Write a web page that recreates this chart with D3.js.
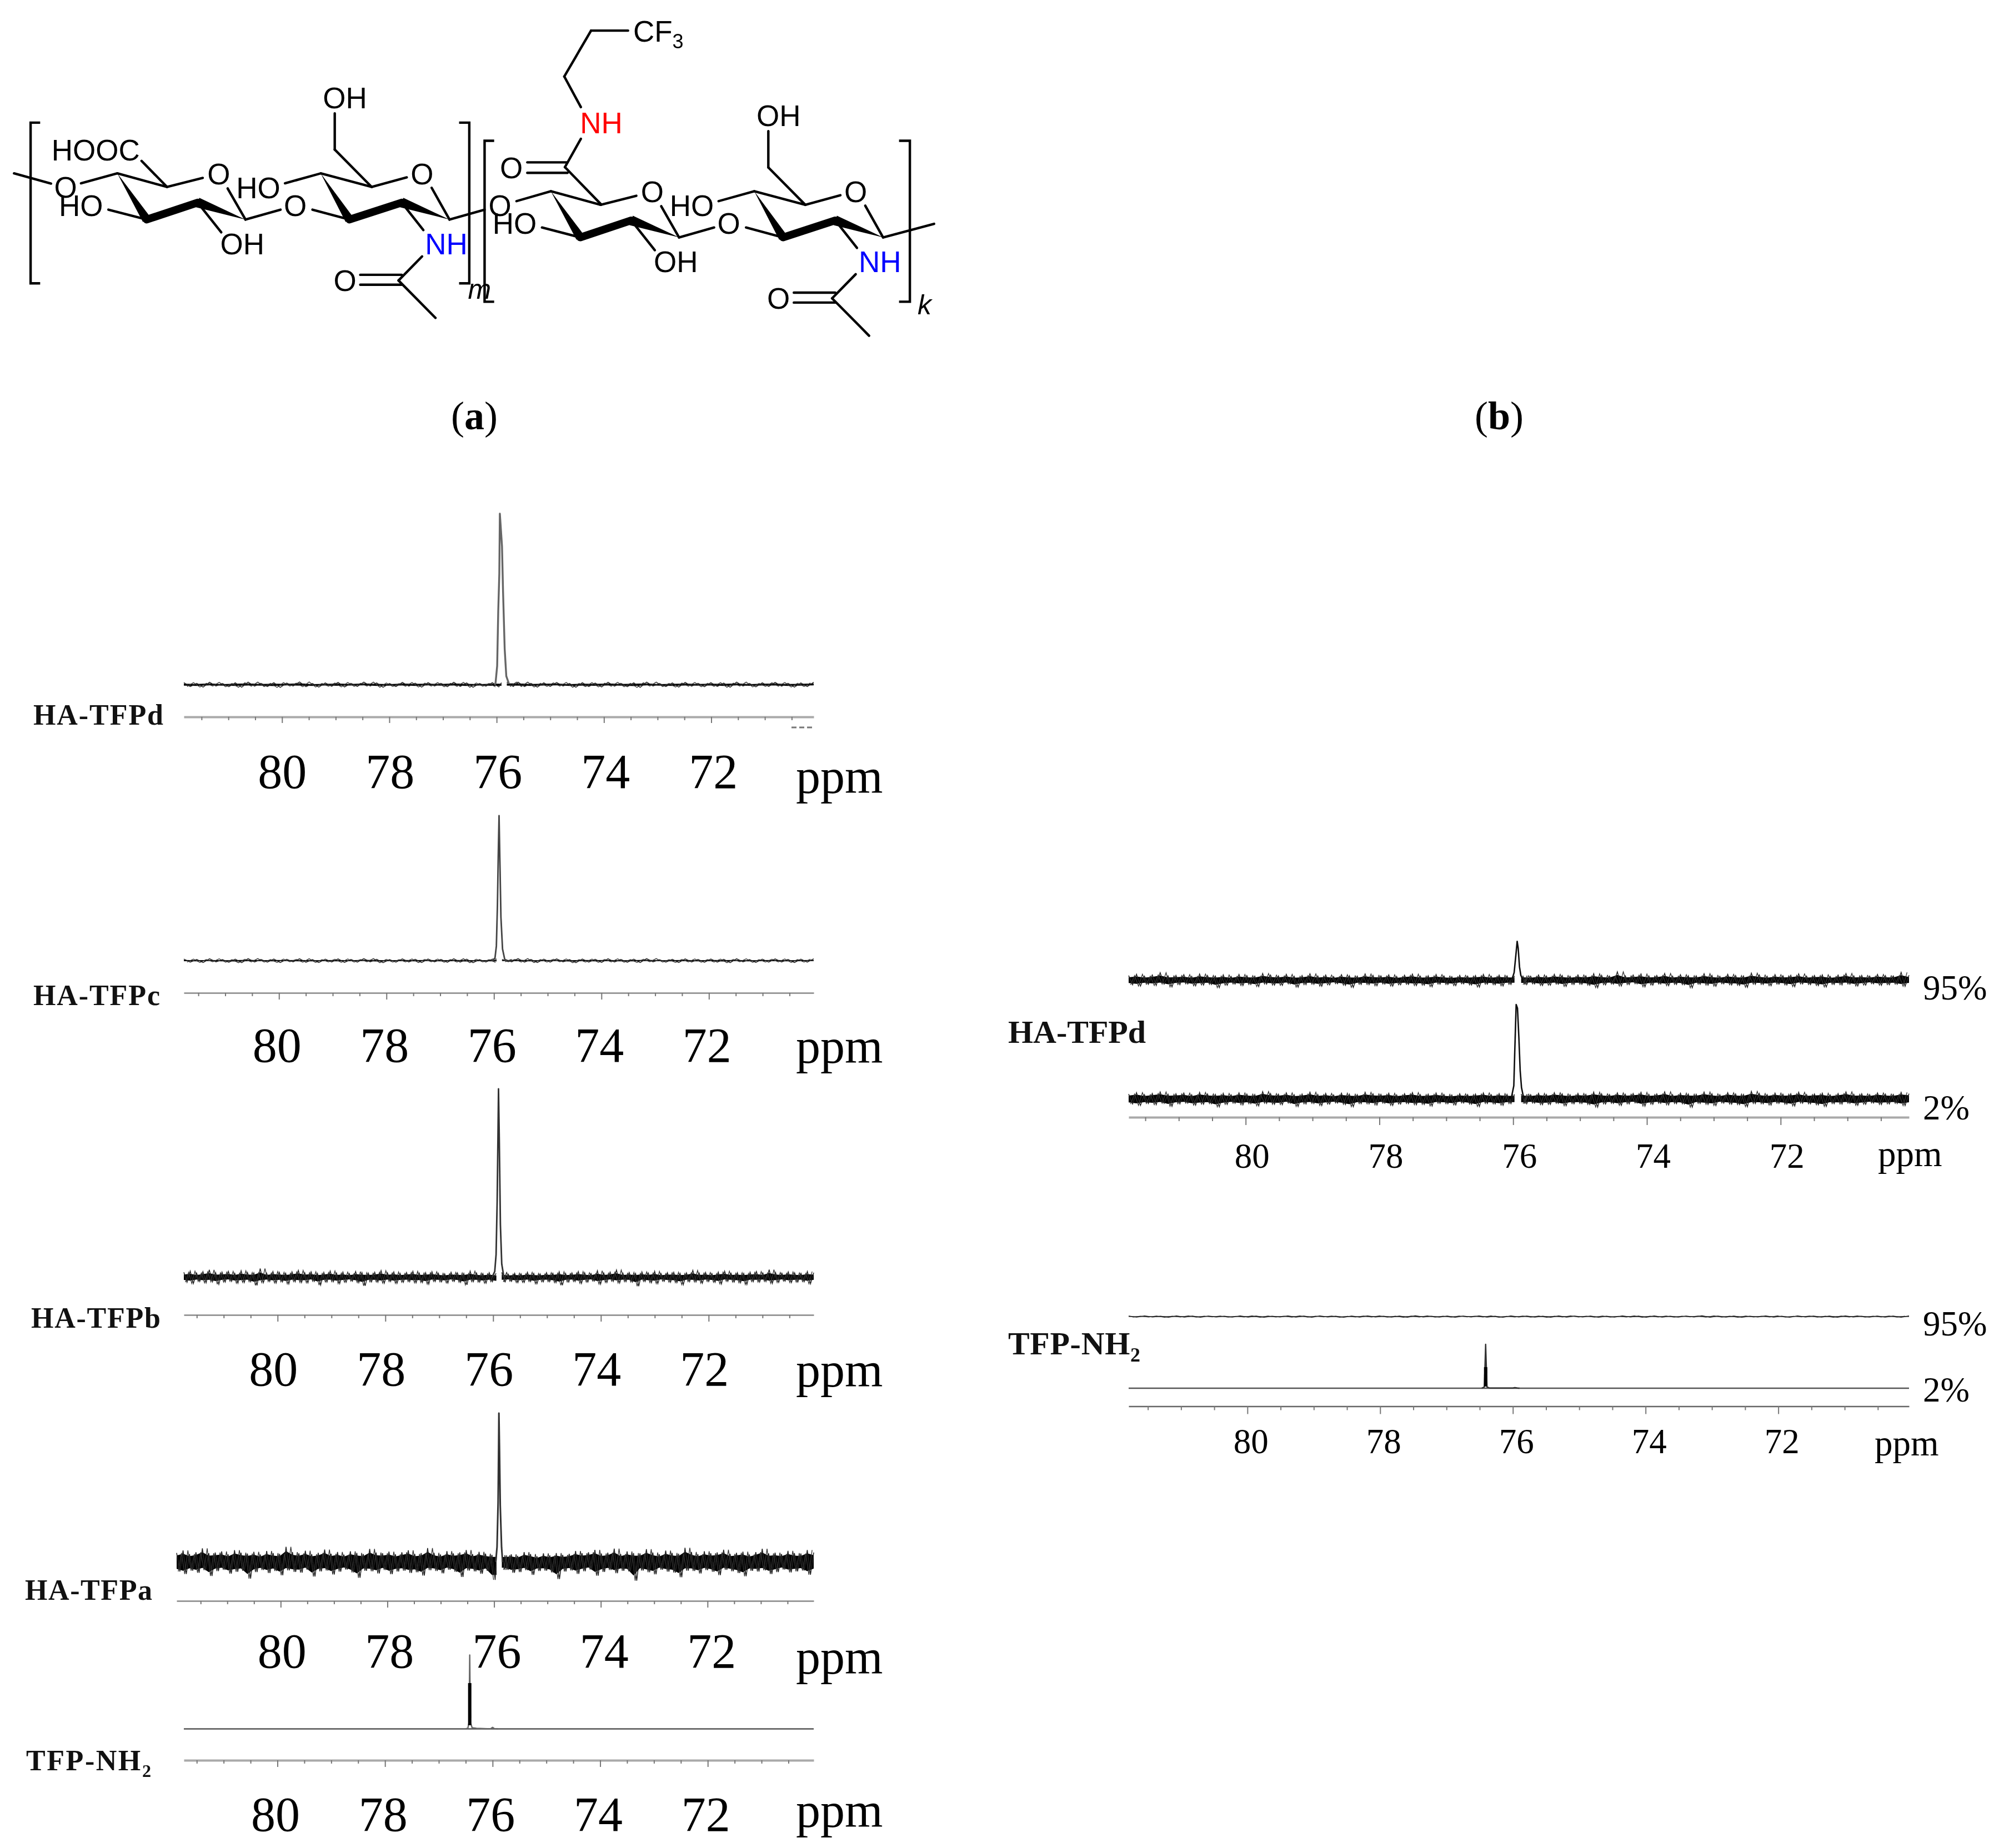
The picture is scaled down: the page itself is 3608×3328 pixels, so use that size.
<!DOCTYPE html>
<html><head><meta charset="utf-8">
<script src="https://cdnjs.cloudflare.com/ajax/libs/d3/7.8.5/d3.min.js"></script>
<style>html,body{margin:0;padding:0;background:#fff}svg{display:block}</style>
</head><body><svg id="c" width="3608" height="3328"></svg>
<script>
// ---------- axis values ----------
const majorTicks=[80,78,76,74,72];
const minorTicks=[81.5,81,80.5,79.5,79,78.5,77.5,77,76.5,75.5,75,74.5,73.5,73,72.5,71.5,71,70.5];

// ---------- peak shapes: [ppm, intensity] ----------
const peakLeftD=[[76.04,0],[76.02,1],[75.99,11],[75.97,43],[75.95,65],[75.94,100],[75.90,81],[75.88,54],[75.85,21],[75.82,5],[75.77,0.5]];
const peakLeftC=[[76.02,0],[75.98,2],[75.955,10],[75.935,38],[75.92,72],[75.905,100],[75.89,70],[75.87,30],[75.84,8],[75.80,1],[75.76,0]];
const peakLeftB=[[76.02,0],[75.97,3],[75.945,12],[75.925,40],[75.91,75],[75.90,100],[75.885,72],[75.865,28],[75.84,7],[75.80,0]];
const peakLeftA=[[75.97,0],[75.945,10],[75.925,40],[75.915,78],[75.91,100],[75.90,78],[75.885,38],[75.86,10],[75.84,0]];
const peakLeftN=[[76.50,0],[76.46,1],[76.44,8],[76.43,65],[76.425,100],[76.42,65],[76.41,8],[76.38,1.5],[76.30,0.8],[76.10,0.3],[76.03,0.5],[76.0,2],[75.97,0.5],[75.9,0]];
const coreLeftN=[[76.425,5],[76.425,62]];
const peakRightD95=[[76.02,0],[75.985,8],[75.96,26],[75.94,41],[75.925,34],[75.905,14],[75.885,5],[75.85,0]];
const peakRightD2=[[76.03,0],[75.99,14],[75.975,52],[75.955,100],[75.935,96],[75.915,66],[75.895,30],[75.875,12],[75.84,0]];
const peakRightN=[[76.47,0],[76.43,3],[76.42,50],[76.41,100],[76.40,50],[76.39,3],[76.35,0.3],[76.0,0.3],[75.97,1.5],[75.93,0.3],[75.9,0]];
const coreRightN=[[76.41,4],[76.41,48]];

// ---------- baseline noise envelopes (% of tallest peak) ----------
const hiA=[6.1,7.8,5.4,6.6,9.2,5.9,6.4,7.1,5.2,8.0,6.3,5.7,6.9,5.1,7.4,6.0,5.5,10.2,6.7,5.8,7.6,5.3,6.2,8.4,5.6,6.8,5.0,7.2,6.1,5.4,8.8,6.4,5.9,7.0,5.2,6.6,7.9,5.5,6.0,9.4,6.2,5.1,7.3,5.8,6.5,8.1,5.3,6.9,5.6,4.8,6.1,4.6,5.2,4.1,6.7,5.4,3.9,5.8,4.4,6.0,4.8,5.5,7.4,5.9,6.6,8.2,5.7,6.3,9.0,5.4,7.1,6.0,5.8,8.6,6.4,5.2,7.7,6.1,5.6,9.6,6.8,5.3,7.2,5.9,6.5,8.3,5.5,6.2,7.0,5.1,6.7,8.9,5.8,6.3,5.4,7.5,6.0,5.7,8.1,6.4];
const loA=[-6.4,-8.1,-5.8,-7.2,-5.5,-9.4,-6.1,-5.3,-7.8,-6.6,-5.9,-11.2,-6.8,-5.4,-7.4,-6.0,-8.9,-5.6,-6.7,-7.1,-5.2,-9.8,-6.3,-5.7,-8.4,-6.5,-5.1,-7.0,-10.6,-5.9,-6.2,-7.7,-5.4,-8.2,-6.4,-5.8,-7.3,-6.9,-9.1,-5.5,-6.0,-7.6,-5.2,-6.6,-10.0,-5.7,-6.3,-7.9,-5.9,-12.0,-6.1,-5.3,-7.2,-6.8,-5.5,-8.6,-6.0,-5.8,-7.0,-11.4,-6.4,-5.6,-8.0,-6.2,-5.1,-9.2,-6.7,-5.4,-7.5,-5.9,-6.3,-12.6,-5.7,-6.9,-8.3,-5.2,-6.5,-7.1,-10.2,-5.8,-6.0,-7.7,-5.5,-6.6,-8.8,-5.3,-6.2,-7.4,-9.6,-5.9,-6.4,-5.6,-8.1,-6.8,-5.1,-7.0,-6.3,-5.7,-8.5,-6.1];
const hiB=[2.6,3.2,2.2,2.9,3.9,2.4,2.7,3.1,2.1,3.4,2.5,2.3,4.6,2.2,3.0,2.6,2.1,2.8,3.6,2.4,2.9,2.0,2.5,3.3,2.2,2.7,1.9,3.0,2.4,2.1,2.6,3.5,2.3,2.8,2.0,2.5,3.1,2.2,2.4,2.9,2.1,1.8,2.6,2.3,2.0,3.2,2.2,1.9,2.4,1.8,2.5,1.6,2.1,1.8,2.6,2.0,1.7,2.4,2.1,2.9,2.0,2.3,3.0,2.4,1.9,3.4,2.2,2.7,3.8,2.1,2.5,2.0,2.8,2.2,3.1,1.9,2.4,2.6,2.0,2.3,3.6,2.2,2.5,1.9,2.7,3.2,2.1,2.4,2.0,2.6,3.0,2.2,4.0,2.5,2.1,2.8,2.3,2.0,3.0,2.4];
const loB=[-2.7,-3.4,-2.3,-3.0,-2.5,-3.8,-2.6,-2.2,-3.2,-2.8,-2.4,-4.4,-2.9,-2.3,-3.1,-2.5,-3.6,-2.4,-2.8,-3.0,-2.2,-4.2,-2.6,-2.4,-3.4,-2.7,-2.1,-2.9,-4.6,-2.5,-2.6,-3.2,-2.3,-3.3,-2.7,-2.4,-3.0,-2.8,-3.7,-2.3,-2.5,-3.1,-2.2,-2.7,-4.1,-2.4,-2.6,-3.2,-2.4,-3.5,-2.5,-2.2,-2.9,-2.8,-2.3,-3.5,-2.5,-2.4,-2.9,-4.3,-2.6,-2.3,-3.3,-2.6,-2.1,-3.7,-2.8,-2.2,-3.1,-2.4,-2.6,-4.8,-2.3,-2.9,-3.4,-2.2,-2.7,-2.9,-4.0,-2.4,-2.5,-3.2,-2.3,-2.7,-3.6,-2.2,-2.6,-3.0,-3.9,-2.4,-2.6,-2.3,-3.3,-2.8,-2.1,-2.9,-2.6,-2.4,-3.5,-2.5];
const hiD2=[5.2,6.7,4.6,5.8,7.4,4.9,5.4,6.2,4.4,6.9,5.3,4.7,5.9,4.3,6.4,5.1,4.6,7.8,5.7,4.9,6.5,4.4,5.2,7.1,4.7,5.8,4.2,6.1,5.0,4.5,7.0,5.4,4.9,6.0,4.3,5.6,6.7,4.6,5.0,6.3,4.8,4.1,5.5,4.6,5.2,6.4,4.5,5.6,4.8,4.0,5.1,4.5,5.9,4.7,6.6,5.3,4.4,5.8,4.9,7.2,5.4,4.6,6.4,5.0,5.7,7.0,4.8,5.3,7.6,4.6,6.1,5.1,4.9,7.3,5.4,4.4,6.6,5.2,4.7,8.0,5.8,4.5,6.2,5.0,5.5,7.1,4.7,5.3,6.0,4.3,5.7,7.5,4.9,5.4,4.6,6.4,5.1,4.8,6.9,5.6];
const loD2=[-5.4,-6.9,-4.9,-6.1,-4.7,-7.8,-5.2,-4.5,-6.6,-5.6,-5.0,-8.4,-5.8,-4.6,-6.3,-5.1,-7.4,-4.7,-5.7,-6.0,-4.4,-8.0,-5.3,-4.8,-7.0,-5.5,-4.3,-5.9,-8.2,-5.0,-5.2,-6.5,-4.6,-6.9,-5.4,-4.9,-6.2,-5.8,-7.5,-4.7,-5.1,-6.4,-4.4,-5.6,-8.0,-4.8,-5.3,-6.7,-5.0,-7.0,-5.2,-4.5,-6.1,-5.8,-4.7,-7.2,-5.1,-4.9,-5.9,-8.6,-5.4,-4.7,-6.8,-5.2,-4.3,-7.6,-5.7,-4.6,-6.3,-5.0,-5.3,-8.8,-4.8,-5.8,-7.0,-4.4,-5.5,-6.0,-8.2,-4.9,-5.1,-6.5,-4.7,-5.6,-7.4,-4.5,-5.2,-6.2,-7.9,-5.0,-5.4,-4.7,-6.8,-5.7,-4.3,-5.9,-5.3,-4.8,-7.1,-5.2];
const hiD95=[4.8,6.2,4.2,5.4,7.8,4.5,5.0,5.8,4.0,6.4,4.9,4.3,5.5,3.9,6.0,4.7,4.2,7.0,5.3,4.5,6.1,4.0,4.8,6.6,4.3,5.4,3.8,5.7,4.6,4.1,6.5,5.0,4.5,5.6,3.9,5.2,6.3,4.2,4.6,5.9,4.4,3.7,5.1,4.2,4.8,6.0,4.1,5.2,4.4,3.6,4.7,4.1,5.5,4.3,6.1,4.9,4.0,5.4,4.5,6.7,5.0,4.2,8.8,4.6,5.3,6.5,4.4,4.9,7.0,4.2,5.7,4.7,4.5,6.8,5.0,4.0,6.1,4.8,4.3,7.4,5.4,4.1,5.8,4.6,5.1,6.6,4.3,4.9,5.6,3.9,5.3,7.0,4.5,5.0,4.2,6.0,4.7,4.4,8.2,5.2];
const loD95=[-5.0,-6.4,-4.5,-5.7,-4.3,-7.2,-4.8,-4.1,-6.1,-5.2,-4.6,-8.0,-5.4,-4.2,-5.8,-4.7,-6.9,-4.3,-5.3,-5.6,-4.0,-7.5,-4.9,-4.4,-6.5,-5.1,-3.9,-5.5,-7.7,-4.6,-4.8,-6.0,-4.2,-6.4,-5.0,-4.5,-5.8,-5.4,-7.0,-4.3,-4.7,-5.9,-4.0,-5.2,-7.4,-4.4,-4.9,-6.2,-4.6,-6.5,-4.8,-4.1,-5.7,-5.4,-4.3,-6.7,-4.7,-4.5,-5.5,-8.0,-5.0,-4.3,-6.3,-4.8,-3.9,-7.1,-5.3,-4.2,-5.9,-4.6,-4.9,-8.2,-4.4,-5.4,-6.5,-4.0,-5.1,-5.6,-7.6,-4.5,-4.7,-6.0,-4.3,-5.2,-6.9,-4.1,-4.8,-5.8,-7.3,-4.6,-5.0,-4.3,-6.3,-5.3,-3.9,-5.5,-4.9,-4.4,-6.6,-4.8];
const hiQuietD=[1.2,0.8,1.4,0.7,1.1,1.5,0.8,1.2,0.9,1.6,0.7,1.0,1.3,0.8,1.5,1.0,0.7,1.3,0.9,1.2,0.8,1.4,1.0,0.7,1.2,0.9,1.5,0.8,1.1,1.3,0.7,1.2,0.9,1.4,0.8,1.1,1.5,0.7,1.0,1.3,0.8,1.2,0.9,1.5,0.7,1.1,1.3,0.8,1.0,1.4];
const loQuietD=[-1.1,-1.4,-0.8,-1.2,-1.5,-0.9,-1.1,-1.6,-0.8,-1.2,-1.4,-0.9,-1.3,-1.0,-0.8,-1.5,-1.1,-0.9,-1.4,-0.8,-1.2,-1.0,-1.5,-0.9,-1.3,-0.8,-1.1,-1.4,-1.0,-0.8,-1.5,-1.1,-1.3,-0.9,-1.2,-1.6,-0.8,-1.1,-1.4,-0.9,-1.2,-1.0,-1.5,-0.8,-1.3,-1.0,-0.9,-1.4,-1.1,-0.8];
const hiQuietC=[1.1,0.8,1.3,0.7,1.0,1.4,0.8,1.1,0.9,1.3,0.7,1.0,1.2,0.8,1.4,0.9,0.7,1.2,0.9,1.1,0.8,1.3,1.0,0.7,1.1,0.9,1.4,0.8,1.0,1.2,0.7,1.1,0.9,1.3,0.8,1.0,1.4,0.7,0.9,1.2,0.8,1.1,0.9,1.3,0.7,1.0,1.2,0.8,1.0,1.3];
const loQuietC=[-1.0,-1.3,-0.8,-1.1,-1.4,-0.9,-1.0,-1.3,-0.8,-1.1,-1.3,-0.9,-1.2,-1.0,-0.8,-1.4,-1.0,-0.9,-1.3,-0.8,-1.1,-1.0,-1.4,-0.9,-1.2,-0.8,-1.0,-1.3,-1.0,-0.8,-1.4,-1.0,-1.2,-0.9,-1.1,-1.3,-0.8,-1.0,-1.3,-0.9,-1.1,-1.0,-1.4,-0.8,-1.2,-1.0,-0.9,-1.3,-1.0,-0.8];
const hiQuietN=[1.0,1.3,0.9,1.5,1.0,1.2,0.8,1.4,1.1,0.9,1.5,1.0,1.3,0.8,1.2,1.4,0.9,1.1,1.6,0.9,1.2,1.0,1.4,0.8,1.3,1.1,0.9,1.5,1.0,1.2,0.8,1.4,1.0,1.3,0.9,1.1,1.6,1.0,1.2,0.9,1.4,0.8,1.3,1.0,1.1,1.5,0.9,1.2,1.0,1.4];
const loQuietN=[-1.1,-0.9,-1.4,-1.0,-1.3,-0.8,-1.2,-1.0,-1.5,-0.9,-1.1,-1.3,-0.8,-1.4,-1.0,-0.9,-1.2,-1.5,-0.9,-1.1,-1.3,-0.8,-1.0,-1.4,-0.9,-1.2,-1.5,-1.0,-0.8,-1.3,-1.1,-0.9,-1.4,-1.0,-1.2,-0.8,-1.3,-1.1,-1.5,-0.9,-1.0,-1.3,-0.8,-1.2,-1.4,-0.9,-1.1,-1.0,-1.3,-0.9];
const flatHi=[0.5,0.5];
const flatLo=[-0.5,-0.5];

// ---------- labels ----------
const panelNames=["HA-TFPd","HA-TFPc","HA-TFPb","HA-TFPa","TFP-NH","HA-TFPd","TFP-NH"];
const percentLabels=["95%","2%"];

const svg=d3.select("#c");
const defs=svg.append("defs");
defs.append("filter").attr("id","soft").attr("x","-2%").attr("y","-2%").attr("width","104%").attr("height","104%")
  .append("feGaussianBlur").attr("stdDeviation",0.7);
const SERIF="'Liberation Serif',serif", SANS="'Liberation Sans',sans-serif";

// ---------- panels ----------
const panels=[
 {name:0,pxL:331,pxR:1465,pL:81.83,pR:70.09,axisY:1291,fs:88,lblDx:0,lblK:0.4,lblBase:1419,ppmX:1433,ppmBase:1428,nameX:60,nameY:1288,nameFs:52,nameW:234,axisW:4,axisC:"#aaa",tick:[6,11],
  traces:[{base:1233,unit:3.08,hi:hiQuietD,lo:loQuietD,core:0.5,peak:peakLeftD,gap:75.86,peakC:"#666",peakW:3.4}]},
 {name:1,pxL:331,pxR:1465,pL:81.77,pR:70.05,axisY:1788,fs:88,lblDx:-4,lblK:0,lblBase:1912,ppmX:1433,ppmBase:1914,nameX:60,nameY:1793,nameFs:52,nameW:228,axisW:2.5,axisC:"#888",tick:[6,12],
  traces:[{base:1730,unit:2.61,hi:hiQuietC,lo:loQuietC,core:0.4,peak:peakLeftC,gap:75.90,peakC:"#444",peakW:2.8}]},
 {name:2,pxL:331,pxR:1465,pL:81.74,pR:70.05,axisY:2368,fs:88,lblDx:-8,lblK:0,lblBase:2495,ppmX:1433,ppmBase:2497,nameX:56,nameY:2374,nameFs:52,nameW:233,axisW:2.5,axisC:"#888",tick:[6,12],
  traces:[{base:2300,unit:3.39,hi:hiB,lo:loB,core:0.55,peak:peakLeftB,gap:75.89,peakC:"#333",peakW:2.8}]},
 {name:3,pxL:318,pxR:1465,pL:81.95,pR:70.01,axisY:2883,fs:88,lblDx:2,lblK:0.6,lblBase:3003,ppmX:1433,ppmBase:3014,nameX:45,nameY:2864,nameFs:52,nameW:229,axisW:2.5,axisC:"#888",tick:[6,12],
  traces:[{base:2813,unit:2.68,hi:hiA,lo:loA,core:0.72,peak:peakLeftA,gap:75.905,peakC:"#333",peakW:3}]},
 {name:4,sub:"2",pxL:331,pxR:1465,pL:81.74,pR:70.03,axisY:3170,fs:88,lblDx:-4,lblK:0,lblBase:3297,ppmX:1433,ppmBase:3290,nameX:47,nameY:3171,nameFs:52,nameW:225,axisW:4,axisC:"#aaa",tick:[6,12],
  traces:[{base:3113.5,unit:1.33,hi:flatHi,lo:flatLo,peak:peakLeftN,coreLine:coreLeftN,gap:76.42,peakC:"#666",peakW:2.4,lineOnly:true}]},
 {name:5,pxL:2032,pxR:3437,pL:81.75,pR:70.08,axisY:2012,fs:63,lblDx:11,lblK:0,lblBase:2103,ppmX:3381,ppmBase:2100,nameX:1815,nameY:1859,nameFs:58,nameW:248,axisW:4,axisC:"#aaa",tick:[7,14],
  traces:[{base:1765,unit:1.7,hi:hiD95,lo:loD95,core:0.62,peak:peakRightD95,gap:75.93,peakC:"#111",peakW:2.6},
          {base:1979,unit:1.7,hi:hiD2,lo:loD2,core:0.68,peak:peakRightD2,gap:75.93,peakC:"#111",peakW:2.6}],
  pct:[{x:3462,y:1800,t:0},{x:3462,y:2016,t:1}]},
 {name:6,sub:"2",pxL:2032,pxR:3437,pL:81.79,pR:70.03,axisY:2532.5,fs:63,lblDx:6,lblK:0,lblBase:2617,ppmX:3375,ppmBase:2621,nameX:1815,nameY:2420,nameFs:58,nameW:238,axisW:2.5,axisC:"#666",tick:[7,14],
  traces:[{base:2371,unit:0.9,hi:hiQuietN,lo:loQuietN,core:0.5,gap:null,peak:null},
          {base:2500,unit:0.79,hi:flatHi,lo:flatLo,peak:peakRightN,coreLine:coreRightN,gap:76.41,peakC:"#333",peakW:2.4,lineOnly:true}],
  pct:[{x:3462,y:2405,t:0},{x:3462,y:2524,t:1}]}
];

const specG=svg.append("g").attr("filter","url(#soft)");
const textG=svg.append("g");
panels.forEach(p=>{
  const x=d3.scaleLinear().domain([p.pL,p.pR]).range([p.pxL,p.pxR]);
  const gMinor=specG.append("g").attr("transform",`translate(0,${p.axisY})`)
    .call(d3.axisBottom(x).tickValues(minorTicks).tickSize(p.tick[0]).tickSizeOuter(0).tickFormat(""));
  gMinor.select(".domain").attr("stroke",p.axisC).attr("stroke-width",p.axisW);
  gMinor.selectAll(".tick line").attr("stroke","#777").attr("stroke-width",2);
  const gMajor=textG.append("g").attr("transform",`translate(0,${p.axisY})`)
    .call(d3.axisBottom(x).tickValues(majorTicks).tickSize(p.tick[1]).tickSizeOuter(0).tickFormat(d=>d));
  gMajor.select(".domain").remove();
  gMajor.selectAll(".tick line").attr("stroke","#777").attr("stroke-width",2);
  gMajor.selectAll(".tick text").attr("y",p.lblBase-p.axisY).attr("dy",0).attr("dx",d=>p.lblDx+(80-d)*p.lblK)
    .attr("fill","#000").attr("font-family",SERIF).attr("font-size",p.fs);
  gMajor.attr("font-size",null).attr("font-family",null);

  textG.append("text").attr("x",p.ppmX).attr("y",p.ppmBase).attr("font-family",SERIF).attr("font-size",p.fs+(p.fs<70?2:0)).text("ppm");

  const nm=textG.append("text").attr("x",p.nameX).attr("y",p.nameY+p.nameFs*0.33)
    .attr("font-family",SERIF).attr("font-weight","bold").attr("font-size",p.nameFs)
    .attr("textLength",p.nameW).attr("lengthAdjust","spacing")
    .attr("fill","#111").text(panelNames[p.name]);
  if(p.sub) nm.append("tspan").attr("dy",p.nameFs*0.22).attr("font-size",p.nameFs*0.62).text(p.sub);

  (p.pct||[]).forEach(t=>textG.append("text").attr("x",t.x).attr("y",t.y)
     .attr("font-family",SERIF).attr("font-size",63).text(percentLabels[t.t]));

  p.traces.forEach(tr=>{
    const y=d3.scaleLinear().domain([0,100]).range([tr.base,tr.base-100*tr.unit]);
    const n=tr.hi.length;
    const pts=d3.range(n).map(i=>({ppm:p.pL+(p.pR-p.pL)*i/(n-1),hi:tr.hi[i],lo:tr.lo[i]}));
    let parts;
    if(tr.gap==null||tr.lineOnly) parts=[pts];
    else{
      const hw=0.05;
      const L=pts.filter(d=>d.ppm>tr.gap+hw),R=pts.filter(d=>d.ppm<tr.gap-hw);
      L.push({...L[L.length-1],ppm:tr.gap+hw});
      R.unshift({...R[0],ppm:tr.gap-hw});
      parts=[L,R];
    }
    parts.forEach(seg=>{
      if(tr.lineOnly){
        specG.append("path").attr("d",d3.line().x(d=>x(d.ppm)).y(d=>y(0))(seg)).attr("stroke","#555").attr("stroke-width",2.6).attr("fill","none");
        return;
      }
      // solid core
      const f=tr.core;
      const area=d3.area().x(d=>x(d.ppm)).y0(d=>y(d.lo*f)).y1(d=>y(d.hi*f));
      specG.append("path").attr("d",area(seg)).attr("fill","#050505");
      // hairline trace running between the envelopes, in both phases
      const w=x(seg[0].ppm+0.0)-x(seg[0].ppm);
      const dp=(p.pL-p.pR)/(n-1);
      const zig=[],zag=[];
      seg.forEach((d,i)=>{
        zig.push([x(d.ppm),y(d.hi)]); zig.push([x(d.ppm-dp*0.5),y(d.lo)]);
        zag.push([x(d.ppm-dp*0.25),y(d.lo)]); zag.push([x(d.ppm-dp*0.75),y(d.hi)]);
      });
      const clipR=x(seg[seg.length-1].ppm);
      const keep=q=>q[0]<=clipR;
      const ln=d3.line();
      specG.append("path").attr("d",ln(zig.filter(keep))).attr("fill","none").attr("stroke","#222").attr("stroke-width",1.5);
      specG.append("path").attr("d",ln(zag.filter(keep))).attr("fill","none").attr("stroke","#333").attr("stroke-width",1.3);
    });
    if(tr.peak){
      const line=d3.line().x(d=>x(d[0])).y(d=>y(d[1]));
      specG.append("path").attr("d",line(tr.peak)).attr("fill","none")
        .attr("stroke",tr.peakC).attr("stroke-width",tr.peakW).attr("stroke-linejoin","round");
      if(tr.coreLine) specG.append("path").attr("d",line(tr.coreLine)).attr("fill","none").attr("stroke","#000").attr("stroke-width",6);
    }
  });
});
specG.append("line").attr("x1",1425).attr("x2",1465).attr("y1",1310).attr("y2",1310)
  .attr("stroke","#777").attr("stroke-width",3).attr("stroke-dasharray","9 5");

// ---------- captions ----------
[["a",854],["b",2699]].forEach(([c,cx])=>{
  const t=svg.append("text").attr("x",cx).attr("y",773).attr("text-anchor","middle")
    .attr("font-family",SERIF).attr("font-size",72);
  t.append("tspan").text("(");
  t.append("tspan").attr("font-weight","bold").text(c);
  t.append("tspan").text(")");
});

// ---------- structure drawing ----------
const mx=d3.scaleLinear().domain([0,1568]).range([0,1800]);
const my=d3.scaleLinear().domain([0,1568]).range([0,800]);
const ringBonds=[[184,612,262,660],[262,660,318,628],[357,665,385,775],[310,715,347,820],[170,740,230,775],[385,775,440,740],[490,740,548,775],[447,647,503,612],[503,612,583,660],[583,660,638,626],[583,660,525,528],[525,528,525,400],[677,663,705,775],[630,715,664,812],[662,905,625,990],[625,990,683,1122],[565,970,630,970],[565,1005,630,1005]];
const wedges=[[184,612,230,775,16],[503,612,548,775,16],[385,775,310,715,18],[705,775,630,715,18]];
const bars=[[230,775,310,715],[548,775,630,715]];
const ringLabels=[["O",343,614,"#000"],["HO",127,725,"#000"],["OH",380,860,"#000"],["O",463,725,"#000"],["HO",405,662,"#000"],["O",662,614,"#000"],["OH",541,345,"#000"],["NH",700,860,"#00f"],["O",541,990,"#000"]];
const firstBonds=[[22,612,80,648],[127,647,184,612],[222,568,262,660],[705,775,760,740]];
const firstLabels=[["O",103,660,"#000"],["HOOC",150,530,"#000"],["O",784,725,"#000"]];
const secondBonds=[[810,710,864,675],[1385,838,1465,790],[943,722,886,590],[827,573,890,573],[827,610,890,610],[886,590,911,490],[911,378,885,270],[885,270,927,108],[927,108,985,108]];
const secondLabels=[["O",802,592,"#000"],["NH",943,433,"#f00"]];
const brackets=[[63,433,48,433,48,1000,63,1000],[720,433,736,433,736,1000,720,1000],[775,497,760,497,760,1065,775,1065],[1410,497,1427,497,1427,1065,1410,1065]];
const unitOffsets=[[0,0],[680,63]];

const mol=svg.append("g");
function bond(b,dx=0,dy=0){mol.append("line").attr("x1",mx(b[0]+dx)).attr("y1",my(b[1]+dy)).attr("x2",mx(b[2]+dx)).attr("y2",my(b[3]+dy)).attr("stroke","#000").attr("stroke-width",4.4).attr("stroke-linecap","round");}
function label(l,dx=0,dy=0){mol.append("text").attr("x",mx(l[1]+dx)).attr("y",my(l[2]+dy)).attr("dy",".36em").attr("text-anchor","middle").attr("font-family",SANS).attr("font-size",53).attr("fill",l[3]).text(l[0]);}
unitOffsets.forEach(([dx,dy])=>{
  ringBonds.forEach(b=>bond(b,dx,dy));
  wedges.forEach(w=>{
    const ax=mx(w[0]+dx),ay=my(w[1]+dy),bx=mx(w[2]+dx),by=my(w[3]+dy);
    const L=Math.hypot(bx-ax,by-ay),nx=-(by-ay)/L*w[4]/2,ny=(bx-ax)/L*w[4]/2;
    mol.append("path").attr("d",d3.line()([[ax,ay],[bx+nx,by+ny],[bx-nx,by-ny]])+"Z").attr("fill","#000");
  });
  bars.forEach(b=>mol.append("line").attr("x1",mx(b[0]+dx)).attr("y1",my(b[1]+dy)).attr("x2",mx(b[2]+dx)).attr("y2",my(b[3]+dy)).attr("stroke","#000").attr("stroke-width",14).attr("stroke-linecap","round"));
  ringLabels.forEach(l=>label(l,dx,dy));
});
firstBonds.forEach(b=>bond(b));
firstLabels.forEach(l=>label(l));
secondBonds.forEach(b=>bond(b));
secondLabels.forEach(l=>label(l));
brackets.forEach(b=>{
  const pts=[[b[0],b[1]],[b[2],b[3]],[b[4],b[5]],[b[6],b[7]]].map(d=>[mx(d[0]),my(d[1])]);
  mol.append("path").attr("d",d3.line()(pts)).attr("fill","none").attr("stroke","#000").attr("stroke-width",4.4);
});
const cf=mol.append("text").attr("x",mx(993)).attr("y",my(110)).attr("dy",".36em").attr("font-family",SANS).attr("font-size",53).text("CF");
cf.append("tspan").attr("dy",12).attr("font-size",36).text("3");
[["m",752,1020],["k",1450,1075]].forEach(([t,a,b])=>mol.append("text").attr("x",mx(a)).attr("y",my(b)).attr("dy",".36em").attr("text-anchor","middle").attr("font-family",SANS).attr("font-style","italic").attr("font-size",50).text(t));
</script></body></html>
